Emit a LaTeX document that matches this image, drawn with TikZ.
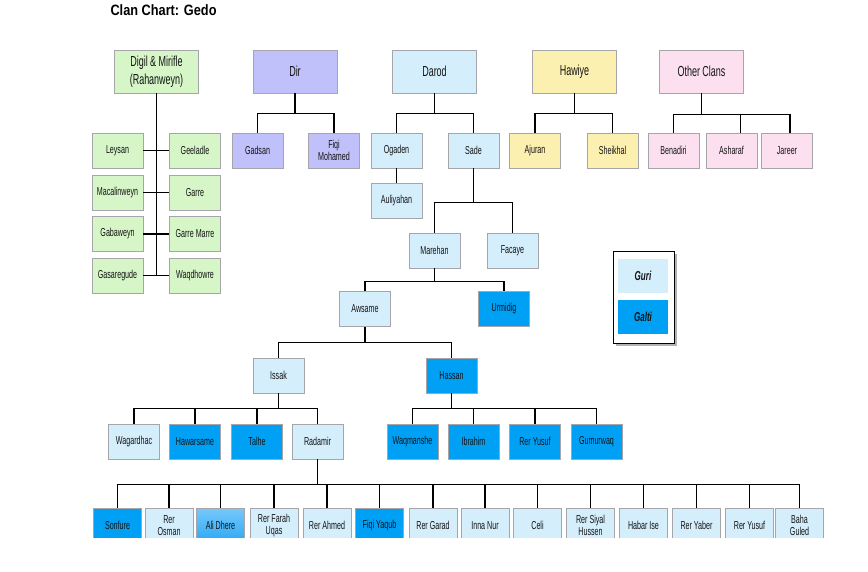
\documentclass[tikz,border=0pt]{standalone}
\usepackage{fontspec}
\usetikzlibrary{shadows}
\newfontfamily\nar[FakeStretch=0.62]{Liberation Sans}
\newfontfamily\titfont[FakeStretch=0.85]{Liberation Sans}
\definecolor{bgray}{RGB}{165,165,170}
\definecolor{cgreen}{RGB}{214,246,200}
\definecolor{cdir}{RGB}{192,192,250}
\definecolor{cguri}{RGB}{212,238,252}
\definecolor{chaw}{RGB}{252,240,176}
\definecolor{cother}{RGB}{252,224,240}
\definecolor{cgalti}{RGB}{0,160,245}
\definecolor{calitop}{RGB}{120,200,250}
\definecolor{calibot}{RGB}{40,168,245}
\definecolor{txt}{RGB}{20,20,20}
\begin{document}
\begin{tikzpicture}[x=1pt,y=-1pt,
  box/.style={draw=bgray,line width=0.6pt,inner sep=0pt,align=center,text=txt,
     minimum width=51,minimum height=35,font=\nar\fontsize{11.5}{12.5}\selectfont},
  topbox/.style={box,minimum width=84,minimum height=43,font=\nar\fontsize{14.5}{18}\selectfont},
  botbox/.style={box,minimum width=48,minimum height=35},
  green/.style={fill=cgreen},
  dirc/.style={fill=cdir},
  guri/.style={fill=cguri},
  haw/.style={fill=chaw},
  oth/.style={fill=cother},
  galti/.style={fill=cgalti},
  legtext/.style={box,draw=none,minimum width=50,minimum height=34,font=\nar\bfseries\itshape\fontsize{13}{13}\selectfont},
  conn/.style={draw=black,line width=1.3pt}]
\useasboundingbox (0,0) rectangle (868,571);
\fill[white] (0,0) rectangle (868,571);
\node[anchor=west,font=\titfont\bfseries\fontsize{15}{15}\selectfont] (title) at (107,10) {Clan Chart: Gedo};

% top level
\node[topbox,green] (digil) at (156.5,71.5) {Digil \& Mirifle\\(Rahanweyn)};
\node[topbox,dirc] (dir) at (295,71.5) {Dir};
\node[topbox,guri] (darod) at (434.5,71.5) {Darod};
\node[topbox,haw] (hawiye) at (574.5,71.5) {Hawiye};
\node[topbox,oth] (other) at (701.5,71.5) {Other Clans};

% Digil children
\node[box,green] (leysan) at (117.5,150.5) {Leysan};
\node[box,green] (geeladle) at (195,150.5) {Geeladle};
\node[box,green] (macal) at (117.5,192.5) {Macalinweyn};
\node[box,green] (garre) at (195,192.5) {Garre};
\node[box,green] (gabaweyn) at (117.5,234) {Gabaweyn};
\node[box,green] (garremarre) at (195,234) {Garre Marre};
\node[box,green] (gasaregude) at (117.5,275.5) {Gasaregude};
\node[box,green] (waqdhowre) at (195,275.5) {Waqdhowre};
\draw[conn] (digil.south) -- (digil.south |- gasaregude.east)
  (leysan.east) -- (geeladle.west)
  (macal.east) -- (garre.west)
  (gabaweyn.east) -- (garremarre.west)
  (gasaregude.east) -- (waqdhowre.west);

% Dir
\node[box,dirc] (gadsan) at (257.5,150.5) {Gadsan};
\node[box,dirc] (fiqim) at (334,150.5) {Fiqi\\Mohamed};
\draw[conn] (dir.south) -- ++(0,20) -| (gadsan.north)
  (dir.south) ++(0,20) -| (fiqim.north);

% Darod
\node[box,guri] (ogaden) at (396.5,150.5) {Ogaden};
\node[box,guri] (sade) at (473.5,150.5) {Sade};
\node[box,guri] (auliyahan) at (396.5,200.5) {Auliyahan};
\draw[conn] (darod.south) -- ++(0,20) -| (ogaden.north)
  (darod.south) ++(0,20) -| (sade.north);
\draw[conn] (ogaden.south) -- (auliyahan.north);

\node[box,guri] (marehan) at (434.5,250.5) {Marehan};
\node[box,guri] (facaye) at (512.5,250.5) {Facaye};
\draw[conn] (sade.south) -- ++(0,34) -| (marehan.north)
  (sade.south) ++(0,34) -| (facaye.north);

\node[box,guri] (awsame) at (365,309) {Awsame};
\node[box,galti] (urmidig) at (504,309) {Urmidig};
\draw[conn] (marehan.south) -- ++(0,13) -| (awsame.north)
  (marehan.south) ++(0,13) -| (urmidig.north);

\node[box,guri] (issak) at (278.5,375.5) {Issak};
\node[box,galti] (hassan) at (451.5,375.5) {Hassan};
\draw[conn] (awsame.south) -- ++(0,16) -| (issak.north)
  (awsame.south) ++(0,16) -| (hassan.north);

\node[box,guri] (wagardhac) at (134,441.5) {Wagardhac};
\node[box,galti] (hawarsame) at (195,441.5) {Hawarsame};
\node[box,galti] (talhe) at (257,441.5) {Talhe};
\node[box,guri] (radamir) at (317.5,441.5) {Radamir};
\draw[conn] (issak.south) -- ++(0,15) -| (wagardhac.north)
  (issak.south) ++(0,15) -| (radamir.north)
  (hawarsame.north) -- (hawarsame.north |- radamir.north) -- ++(0,-15)
  (talhe.north) -- ++(0,-15);

\node[box,galti] (waqmanshe) at (412.5,441.5) {Waqmanshe};
\node[box,galti] (ibrahim) at (473.5,441.5) {Ibrahim};
\node[box,galti] (reryusufa) at (535,441.5) {Rer Yusuf};
\node[box,galti] (gumurwaq) at (596.5,441.5) {Gumurwaq};
\draw[conn] (hassan.south) -- ++(0,15) -| (waqmanshe.north)
  (hassan.south) ++(0,15) -| (gumurwaq.north)
  (ibrahim.north) -- ++(0,-15)
  (reryusufa.north) -- ++(0,-15);

% bottom row (cut by page edge)
\begin{scope}
\clip (0,0) rectangle (868,537);
\node[botbox,galti] (sonfure) at (117.5,525.5) {Sonfure};
\node[botbox,guri] (rerosman) at (169,525.5) {Rer\\Osman};
\node[botbox,top color=calitop,bottom color=calibot] (alidhere) at (220.5,525.5) {Ali Dhere};
\node[botbox,guri] (rerfarah) at (274,525.5) {Rer Farah\\Uqas};
\node[botbox,guri] (rerahmed) at (327,525.5) {Rer Ahmed};
\node[botbox,galti] (fiqiyaqub) at (379.5,525.5) {Fiqi Yaqub};
\node[botbox,guri] (rergarad) at (433,525.5) {Rer Garad};
\node[botbox,guri] (innanur) at (485,525.5) {Inna Nur};
\node[botbox,guri] (celi) at (537.5,525.5) {Celi};
\node[botbox,guri] (rersiyal) at (590.5,525.5) {Rer Siyal\\Hussen};
\node[botbox,guri] (habarise) at (643.5,525.5) {Habar Ise};
\node[botbox,guri] (reryaber) at (696.5,525.5) {Rer Yaber};
\node[botbox,guri] (reryusufb) at (749.5,525.5) {Rer Yusuf};
\node[botbox,guri] (bahaguled) at (799.5,525.5) {Baha\\Guled};
\end{scope}
\draw[conn] (radamir.south) -- ++(0,25) -| (sonfure.north)
  (radamir.south) ++(0,25) -| (bahaguled.north)
  (rerosman.north) -- ++(0,-24) (alidhere.north) -- ++(0,-24)
  (rerfarah.north) -- ++(0,-24) (rerahmed.north) -- ++(0,-24)
  (fiqiyaqub.north) -- ++(0,-24) (rergarad.north) -- ++(0,-24)
  (innanur.north) -- ++(0,-24) (celi.north) -- ++(0,-24)
  (rersiyal.north) -- ++(0,-24) (habarise.north) -- ++(0,-24)
  (reryaber.north) -- ++(0,-24) (reryusufb.north) -- ++(0,-24);

% Hawiye
\node[box,haw] (ajuran) at (535,150.5) {Ajuran};
\node[box,haw] (sheikhal) at (612.5,150.5) {Sheikhal};
\draw[conn] (hawiye.south) -- ++(0,20) -| (ajuran.north)
  (hawiye.south) ++(0,20) -| (sheikhal.north);

% Other clans
\node[box,oth] (benadiri) at (673.5,150.5) {Benadiri};
\node[box,oth] (asharaf) at (731.5,150.5) {Asharaf};
\node[box,oth] (jareer) at (787,150.5) {Jareer};
\draw[conn] (other.south) -- ++(0,21) -| (benadiri.north)
  (other.south) ++(0,21) -| ([xshift=3pt]jareer.north)
  ([xshift=9pt]asharaf.north) -- ++(0,-18);

% legend
\node[draw=black,line width=1pt,fill=white,minimum width=61,minimum height=92,inner sep=0pt,
  drop shadow={shadow xshift=3pt,shadow yshift=-3pt,opacity=0.6}] (legend) at (643.5,297) {};
\node[legtext,fill=cguri] (lguri) at (643,276) {Guri};
\node[legtext,fill=cgalti] (lgalti) at (643,317) {Galti};
\end{tikzpicture}
\end{document}
